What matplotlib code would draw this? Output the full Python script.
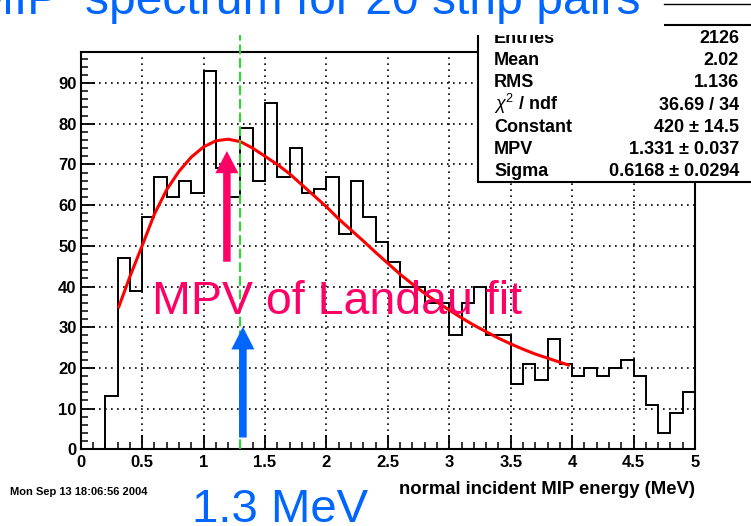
import numpy as np
import matplotlib
matplotlib.use('Agg')
import matplotlib.pyplot as plt
from matplotlib.patches import Rectangle, FancyArrowPatch
from matplotlib.lines import Line2D
from matplotlib.ticker import MultipleLocator, FuncFormatter

plt.rcParams['font.family'] = ['Liberation Sans', 'DejaVu Sans']
plt.rcParams['mathtext.fontset'] = 'custom'
plt.rcParams['mathtext.rm'] = 'Liberation Sans'
plt.rcParams['mathtext.it'] = 'Liberation Sans:italic'

# histogram: 50 bins of 0.1 MeV from 0 to 5
bin_edges = np.linspace(0, 5, 51)
counts = [0, 0, 13, 47, 39, 57, 67, 62, 66, 63,
          93, 69, 62, 79, 66, 85, 67, 74, 63, 64,
          67, 53, 66, 57, 51, 46, 40, 40, 36, 36,
          28, 36, 40, 28, 28, 16, 21, 17, 27, 21,
          18, 20, 18, 20, 22, 18, 11, 4, 9, 14]

# Landau fit curve
fit_x = [0.31, 0.40, 0.50, 0.60, 0.70, 0.80, 0.90, 1.00, 1.10, 1.20,
         1.30, 1.40, 1.50, 1.60, 1.70, 1.80, 1.90, 2.00, 2.10, 2.20,
         2.30, 2.40, 2.50, 2.60, 2.70, 2.80, 2.90, 3.00, 3.10, 3.20,
         3.30, 3.40, 3.50, 3.60, 3.70, 3.80, 3.90, 3.97]
fit_y = [35.0, 42.4, 50.0, 57.8, 63.8, 68.3, 71.8, 74.3, 75.8, 76.2,
         75.6, 74.0, 72.0, 70.0, 67.7, 65.0, 62.3, 59.6, 56.6, 53.9,
         51.2, 48.4, 45.7, 43.0, 40.6, 38.3, 36.2, 34.2, 32.3, 30.5,
         28.9, 27.3, 25.9, 24.6, 23.4, 22.4, 21.4, 20.7]

mpv_line = 1.3

stat_labels = ['Entries', 'Mean', 'RMS', r'$\chi^2$ / ndf', 'Constant', 'MPV', 'Sigma']
stat_values = ['2126', '2.02', '1.136', '36.69 / 34', '420 \u00b1 14.5',
               '1.331 \u00b1 0.037', '0.6168 \u00b1 0.0294']

blue = '#0066FF'
pink = '#FF0066'

W, H = 751, 526


def fx(px):
    return px / W


def fy(py):
    return 1 - py / H


fig = plt.figure(figsize=(W / 100, H / 100), dpi=100)
ax = fig.add_axes([fx(80.7), fy(449.3), fx(695) - fx(80.7), fy(51.7) - fy(449.3)])

ax.stairs(counts, bin_edges, color='black', lw=1.4, zorder=3)
ax.plot(fit_x, fit_y, color='#FF0000', lw=2.2, zorder=4)
ax.axvline(mpv_line, 0, 1.042, color='#22DD22', lw=1.4, ls=(0, (5, 2)),
           clip_on=False, zorder=5)

ax.set_xlim(0, 5)
ax.set_ylim(0, 97.7)
ax.xaxis.set_major_locator(MultipleLocator(0.5))
ax.xaxis.set_minor_locator(MultipleLocator(0.1))
ax.yaxis.set_major_locator(MultipleLocator(10))
ax.yaxis.set_minor_locator(MultipleLocator(2))
ax.xaxis.set_major_formatter(FuncFormatter(lambda v, p: f'{v:g}'))
ax.tick_params(which='major', direction='in', length=10, width=1.3,
               labelsize=12, top=False, right=False)
ax.tick_params(which='minor', direction='in', length=5, width=1.1,
               top=False, right=False)
ax.tick_params(axis='y', pad=3)
ax.tick_params(axis='x', pad=4)
for lab in ax.get_xticklabels() + ax.get_yticklabels():
    lab.set_fontweight('bold')
for sp in ax.spines.values():
    sp.set_linewidth(1.5)
ax.grid(True, which='major', color='black', lw=1.2, ls=(0, (1, 2.6)), zorder=1)

# arrows
ax.add_patch(FancyArrowPatch((1.19, 46.1), (1.19, 73.3), mutation_scale=1,
                             arrowstyle='simple,head_length=16,head_width=16.6,tail_width=5.4',
                             color=pink, lw=0, shrinkA=0, shrinkB=0, zorder=6))
ax.add_patch(FancyArrowPatch((1.32, 2.9), (1.32, 30.1), mutation_scale=1,
                             arrowstyle='simple,head_length=16.3,head_width=16.6,tail_width=5.5',
                             color=blue, lw=0, shrinkA=0, shrinkB=0, zorder=6))

fig.text(fx(151.7), fy(314), 'MPV of Landau fit', color=pink, fontsize=33.5,
         va='baseline', ha='left', zorder=7)
fig.text(fx(192), fy(522), '1.3 MeV', color=blue, fontsize=34,
         va='baseline', ha='left')

fig.text(fx(695), fy(494), 'normal incident MIP energy (MeV)', fontsize=13.3,
         weight='bold', ha='right', va='baseline')
fig.text(fx(10), fy(495), 'Mon Sep 13 18:06:56 2004', fontsize=8,
         weight='bold', ha='left', va='baseline')

# stats box
fig.patches.append(Rectangle((fx(478), fy(182.3)), fx(800) - fx(478), fy(25.5) - fy(182.3),
                             transform=fig.transFigure, facecolor='white',
                             edgecolor='black', lw=1.5, zorder=4))
base = 42.7
for i, (lab, val) in enumerate(zip(stat_labels, stat_values)):
    yy = fy(base + 22.3 * i)
    fig.text(fx(494), yy, lab, fontsize=13, weight='bold', va='baseline',
             ha='left', zorder=4.5)
    fig.text(fx(739), yy, val, fontsize=13, weight='bold', va='baseline',
             ha='right', zorder=4.5)
# white title area hides top of the stats box
fig.patches.append(Rectangle((fx(470), fy(34.5)), fx(664) - fx(470), fy(0) - fy(34.5),
                             transform=fig.transFigure, facecolor='white',
                             edgecolor='none', zorder=5))
fig.lines.append(Line2D([fx(664), fx(751)], [fy(4), fy(4)], transform=fig.transFigure,
                        color='black', lw=1.0, zorder=6))

# title, cut off by the top edge of the slide
fig.text(fx(640), fy(14.5), 'MIP  spectrum for 20 strip pairs', color=blue,
         fontsize=34.6, va='baseline', ha='right', zorder=8)

fig.savefig('out.png', dpi=100)
